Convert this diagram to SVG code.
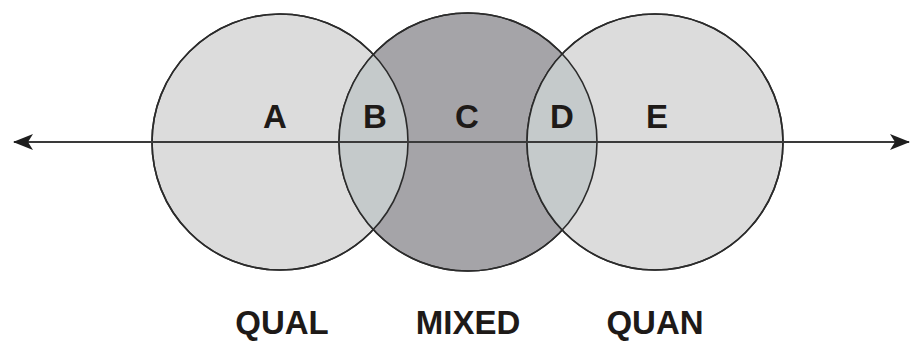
<svg xmlns="http://www.w3.org/2000/svg" width="911" height="341" viewBox="0 0 911 341">
<style>
.c{stroke:#2b2b2b;stroke-width:1.6}
.outer{fill:#dcdcdc}
.mid{fill:#a5a4a8}
.lens{fill:#c5cacb;stroke:none}
.t{font-family:"Liberation Sans",Arial,sans-serif;font-weight:bold;font-size:33px;fill:#1e1a18;text-anchor:middle}
.ax{stroke:#3a3a3a;stroke-width:2;fill:none}
</style>
<defs>
<clipPath id="clipMid"><circle cx="468" cy="142" r="129"/></clipPath>
<marker id="arr" viewBox="0 0 20 16" refX="19" refY="8" markerWidth="20" markerHeight="16" markerUnits="userSpaceOnUse" orient="auto-start-reverse">
<path d="M0,0 L20,8 L0,16 L5,8 Z" fill="#1e1e1e"/>
</marker>
</defs>
<g id="qual">
<circle class="c outer" cx="280" cy="142" r="128"/>
</g>
<g id="mixed">
<circle class="c mid" cx="468" cy="142" r="129"/>
</g>
<g id="quan">
<circle class="c outer" cx="655" cy="142" r="128"/>
</g>
<g id="overlaps" clip-path="url(#clipMid)">
<circle class="lens" cx="280" cy="142" r="128"/>
<circle class="lens" cx="655" cy="142" r="128"/>
</g>
<g id="outlines" fill="none">
<circle class="c" cx="280" cy="142" r="128" fill="none"/>
<circle class="c" cx="468" cy="142" r="129" fill="none"/>
<circle class="c" cx="655" cy="142" r="128" fill="none"/>
</g>
<g id="connectors">
<line class="ax" x1="14" y1="142" x2="909" y2="142" marker-start="url(#arr)" marker-end="url(#arr)"/>
</g>
<g id="region-labels">
<text class="t" x="275" y="128">A</text>
<text class="t" x="375" y="128">B</text>
<text class="t" x="467" y="128">C</text>
<text class="t" x="562" y="128">D</text>
<text class="t" x="657" y="128">E</text>
</g>
<g id="method-labels">
<text class="t" x="282" y="334">QUAL</text>
<text class="t" x="468" y="334">MIXED</text>
<text class="t" x="655" y="334">QUAN</text>
</g>
</svg>
